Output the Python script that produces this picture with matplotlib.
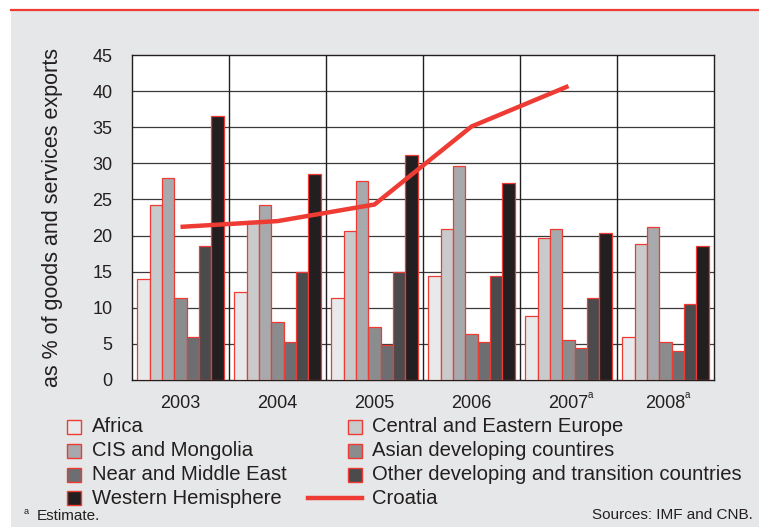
import matplotlib
matplotlib.use("Agg")
import numpy as np
import matplotlib.pyplot as plt
from matplotlib.patches import Rectangle
from matplotlib.lines import Line2D

plt.rcParams["font.family"] = ["Liberation Sans", "DejaVu Sans"]

years = ["2003", "2004", "2005", "2006", "2007", "2008"]
estimate_years = ["2007", "2008"]

series_names = [
    "Africa",
    "Central and Eastern Europe",
    "CIS and Mongolia",
    "Asian developing countires",
    "Near and Middle East",
    "Other developing and transition countries",
    "Western Hemisphere",
]
africa = [14.0, 12.2, 11.3, 14.4, 8.8, 6.0]
cee = [24.2, 22.0, 20.7, 20.9, 19.6, 18.8]
cis = [28.0, 24.3, 27.6, 29.6, 20.9, 21.2]
asian = [11.4, 8.1, 7.4, 6.4, 5.6, 5.3]
near_me = [5.9, 5.2, 4.9, 5.2, 4.5, 4.0]
other = [18.6, 14.9, 15.0, 14.4, 11.3, 10.5]
western = [36.6, 28.5, 31.1, 27.3, 20.3, 18.6]
croatia = [21.2, 22.0, 24.3, 35.1, 40.7]

bar_colors = ["#e8e9ea", "#c9cacc", "#a8a9ac", "#8b8c8e", "#6d6e71", "#4b4a4d", "#231f20"]
red = "#ee3b33"
bg = "#e6e7e8"

W, H = 759, 527
fig = plt.figure(figsize=(W / 100, H / 100), dpi=100)
fig.patch.set_facecolor("white")

# gray panel and red top rule
fig.patches.append(Rectangle((11 / W, 0), 1 - 11 / W, (H - 11) / H, transform=fig.transFigure,
                             facecolor=bg, edgecolor="none", zorder=-10))
fig.lines.append(Line2D([11 / W, 1], [1 - 10 / H, 1 - 10 / H], transform=fig.transFigure,
                        color=red, lw=1.6))

ax = fig.add_axes([132 / W, (H - 380) / H, 582 / W, 325 / H])
ax.set_facecolor("white")

data = [africa, cee, cis, asian, near_me, other, western]
x = np.arange(len(years))
w = 0.894 / 7
for i, (vals, col) in enumerate(zip(data, bar_colors)):
    ax.bar(x + (i - 3) * w, vals, width=w, color=col, edgecolor=red, linewidth=0.9, zorder=3)

ax.plot(x[:len(croatia)], croatia, color=red, lw=3.2, zorder=4, solid_capstyle="butt")

ax.set_xlim(-0.5, len(years) - 0.5)
ax.set_ylim(0, 45)
ax.set_yticks(np.arange(0, 46, 5))
for yv in np.arange(5, 45, 5):
    ax.axhline(yv, color="#3a3a3a", lw=0.9, zorder=1)
for xv in np.arange(0.5, len(years) - 0.5, 1):
    ax.axvline(xv, color="#231f20", lw=1.0, zorder=1)
for s in ax.spines.values():
    s.set_color("#231f20")
    s.set_linewidth(1.0)

ax.set_xticks(x)
ax.set_xticklabels(years)
ax.tick_params(axis="both", length=0, labelsize=13, colors="#231f20")
ax.tick_params(axis="y", pad=14)
ax.tick_params(axis="x", pad=11)
for i, yr in enumerate(years):
    if yr in estimate_years:
        ax.annotate("a", xy=(i, 0), xycoords=("data", "axes fraction"), xytext=(13.8, -13),
                    textcoords="offset points", fontsize=7, color="#231f20")

ax.set_ylabel("as % of goods and services exports", fontsize=15.5, color="#231f20")
ax.yaxis.set_label_coords(-0.118, 0.5)

# legend drawn by hand
rows = [427, 451, 475, 498]
entries = [(series_names[i], bar_colors[i]) for i in range(7)]
for k, (name, col) in enumerate(entries):
    r, c = k // 2, k % 2
    yp = rows[r]
    mx = 67 if c == 0 else 348
    tx = 92 if c == 0 else 372
    fig.patches.append(Rectangle((mx / W, 1 - (yp + 7) / H), 14 / W, 14 / H,
                                 transform=fig.transFigure, facecolor=col, edgecolor=red, lw=1.0))
    fig.text(tx / W, 1 - yp / H, name, fontsize=14.6, va="center", ha="left", color="#231f20")
fig.lines.append(Line2D([308 / W, 362 / W], [1 - rows[3] / H] * 2, transform=fig.transFigure,
                        color=red, lw=3.2))
fig.text(372 / W, 1 - rows[3] / H, "Croatia", fontsize=14.6, va="center", ha="left", color="#231f20")

fig.text(24 / W, 1 - 512 / H, "a", fontsize=6.5, va="center", ha="left", color="#231f20")
fig.text(37 / W, 1 - 516 / H, "Estimate.", fontsize=11, va="center", ha="left", color="#231f20")
fig.text(753 / W, 1 - 515 / H, "Sources: IMF and CNB.", fontsize=11, va="center", ha="right",
         color="#231f20")

fig.savefig("out.png", dpi=100, facecolor=fig.get_facecolor())
